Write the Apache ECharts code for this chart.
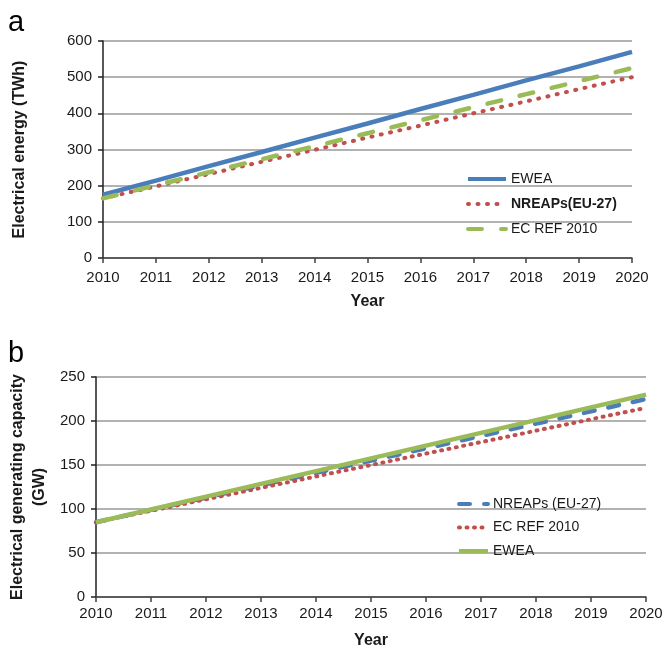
<!DOCTYPE html>
<html>
<head>
<meta charset="utf-8">
<script src="https://cdn.jsdelivr.net/npm/echarts@6/dist/echarts.min.js"></script>
<style>html,body{margin:0;padding:0;background:#fff}#c{width:665px;height:651px}</style>
</head>
<body>
<div id="c"></div>
<script>
// ---- data ----
const years = ['2010','2011','2012','2013','2014','2015','2016','2017','2018','2019','2020'];
// panel a: electrical energy (TWh)
const aEWEA  = [175, 214, 254, 293, 333, 372, 412, 451, 491, 530, 570];
const aNREAP = [165, 198, 232, 266, 299, 333, 366, 400, 433, 467, 500];
const aECREF = [165, 201, 237, 273, 309, 345, 381, 417, 453, 489, 525];
// panel b: electrical generating capacity (GW)
const bNREAP = [85, 99, 113, 127, 141, 155, 169, 183, 197, 211, 225];
const bECREF = [85, 98, 111, 124, 137, 150, 163, 176, 189, 202, 215];
const bEWEA  = [85, 99.5, 114, 128.5, 143, 157.5, 172, 186.5, 201, 215.5, 230];
const aTicks = {min: 0, max: 600, interval: 100};
const bTicks = {min: 0, max: 250, interval: 50};

const FONT = '"Liberation Sans", Arial, sans-serif';
const BLUE = '#4A7EBB', RED = '#C0504D', GREEN = '#9BBB59';
const TXT = '#1a1a1a';

function xAxis(gi, gap, margin){
  return {
    type: 'category', gridIndex: gi, data: years, boundaryGap: false,
    name: 'Year', nameLocation: 'middle', nameGap: gap, nameMoveOverlap: false,
    nameTextStyle: {fontFamily: FONT, fontSize: 16, fontWeight: 'bold', color: TXT},
    axisLine: {lineStyle: {color: '#404040', width: 1.5}},
    axisTick: {show: true, length: 5, lineStyle: {color: '#404040', width: 1.5}},
    axisLabel: {fontFamily: FONT, fontSize: 15, color: TXT, margin: margin},
    splitLine: {show: false}
  };
}
function yAxis(gi, t, name, gap){
  return {
    type: 'value', gridIndex: gi, min: t.min, max: t.max, interval: t.interval,
    name: name, nameLocation: 'middle', nameGap: gap, nameRotate: 90, nameMoveOverlap: false,
    nameTextStyle: {fontFamily: FONT, fontSize: 16, fontWeight: 'bold', color: TXT, lineHeight: 22, align: 'center'},
    axisLine: {show: true, lineStyle: {color: '#202020', width: 1.5}},
    axisTick: {show: true, length: 5, lineStyle: {color: '#202020', width: 1.5}},
    axisLabel: {fontFamily: FONT, fontSize: 15, color: TXT, margin: 11},
    splitLine: {show: true, lineStyle: {color: '#999', width: 1.5}}
  };
}
function line(name, idx, data, color, width, type, cap){
  return {
    name: name, type: 'line', xAxisIndex: idx, yAxisIndex: idx, data: data,
    symbol: 'none', showSymbol: false, animation: false,
    lineStyle: {color: color, width: width, type: type, cap: cap || 'butt'},
    itemStyle: {color: color}
  };
}

const option = {
  backgroundColor: '#fff',
  animation: false,
  title: [
    {text: 'a', left: 3, top: 3, textStyle: {fontFamily: FONT, fontSize: 29, fontWeight: 'normal', color: '#000'}},
    {text: 'b', left: 3, top: 334, textStyle: {fontFamily: FONT, fontSize: 29, fontWeight: 'normal', color: '#000'}}
  ],
  grid: [
    {left: 103, right: 33, top: 41, bottom: 393, containLabel: false, outerBoundsMode: 'none'},
    {left: 96, right: 19, top: 377, bottom: 54, containLabel: false, outerBoundsMode: 'none'}
  ],
  xAxis: [xAxis(0, 36, 12), xAxis(1, 36, 9)],
  yAxis: [
    yAxis(0, aTicks, 'Electrical energy (TWh)', 72),
    yAxis(1, bTicks, 'Electrical generating capacity\n(GW)', 45)
  ],
  legend: [
    {
      orient: 'vertical', left: 461, top: 167, itemGap: 11, itemWidth: 38, itemHeight: 16,
      data: ['a:EWEA', 'a:NREAPs(EU-27)', 'a:EC REF 2010'],
      formatter: n => n === 'a:NREAPs(EU-27)' ? '{b|NREAPs(EU-27)}' : n.slice(2),
      textStyle: {fontFamily: FONT, fontSize: 14, color: TXT,
        rich: {b: {fontFamily: FONT, fontSize: 14, fontWeight: 'bold', color: TXT}}},
      itemStyle: {opacity: 0},
      lineStyle: {width: 4},
      selectedMode: false
    },
    {
      orient: 'vertical', left: 452, top: 492, itemGap: 9.5, itemWidth: 29, itemHeight: 14,
      data: ['b:NREAPs (EU-27)', 'b:EC REF 2010', 'b:EWEA'],
      formatter: n => n.slice(2),
      textStyle: {fontFamily: FONT, fontSize: 14, color: TXT},
      itemStyle: {opacity: 0},
      lineStyle: {width: 4},
      selectedMode: false
    }
  ],
  series: [
    line('a:EWEA', 0, aEWEA, BLUE, 4.5, 'solid'),
    line('a:NREAPs(EU-27)', 0, aNREAP, RED, 4, [1, 8.5], 'round'),
    line('a:EC REF 2010', 0, aECREF, GREEN, 4.5, [14, 19], 'round'),
    line('b:NREAPs (EU-27)', 1, bNREAP, BLUE, 4.5, [11, 14], 'round'),
    line('b:EC REF 2010', 1, bECREF, RED, 4, [1, 6.5], 'round'),
    line('b:EWEA', 1, bEWEA, GREEN, 4.5, 'solid')
  ]
};
const chart = echarts.init(document.getElementById('c'), null, {renderer: 'canvas'});
chart.setOption(option);
</script>
</body>
</html>
